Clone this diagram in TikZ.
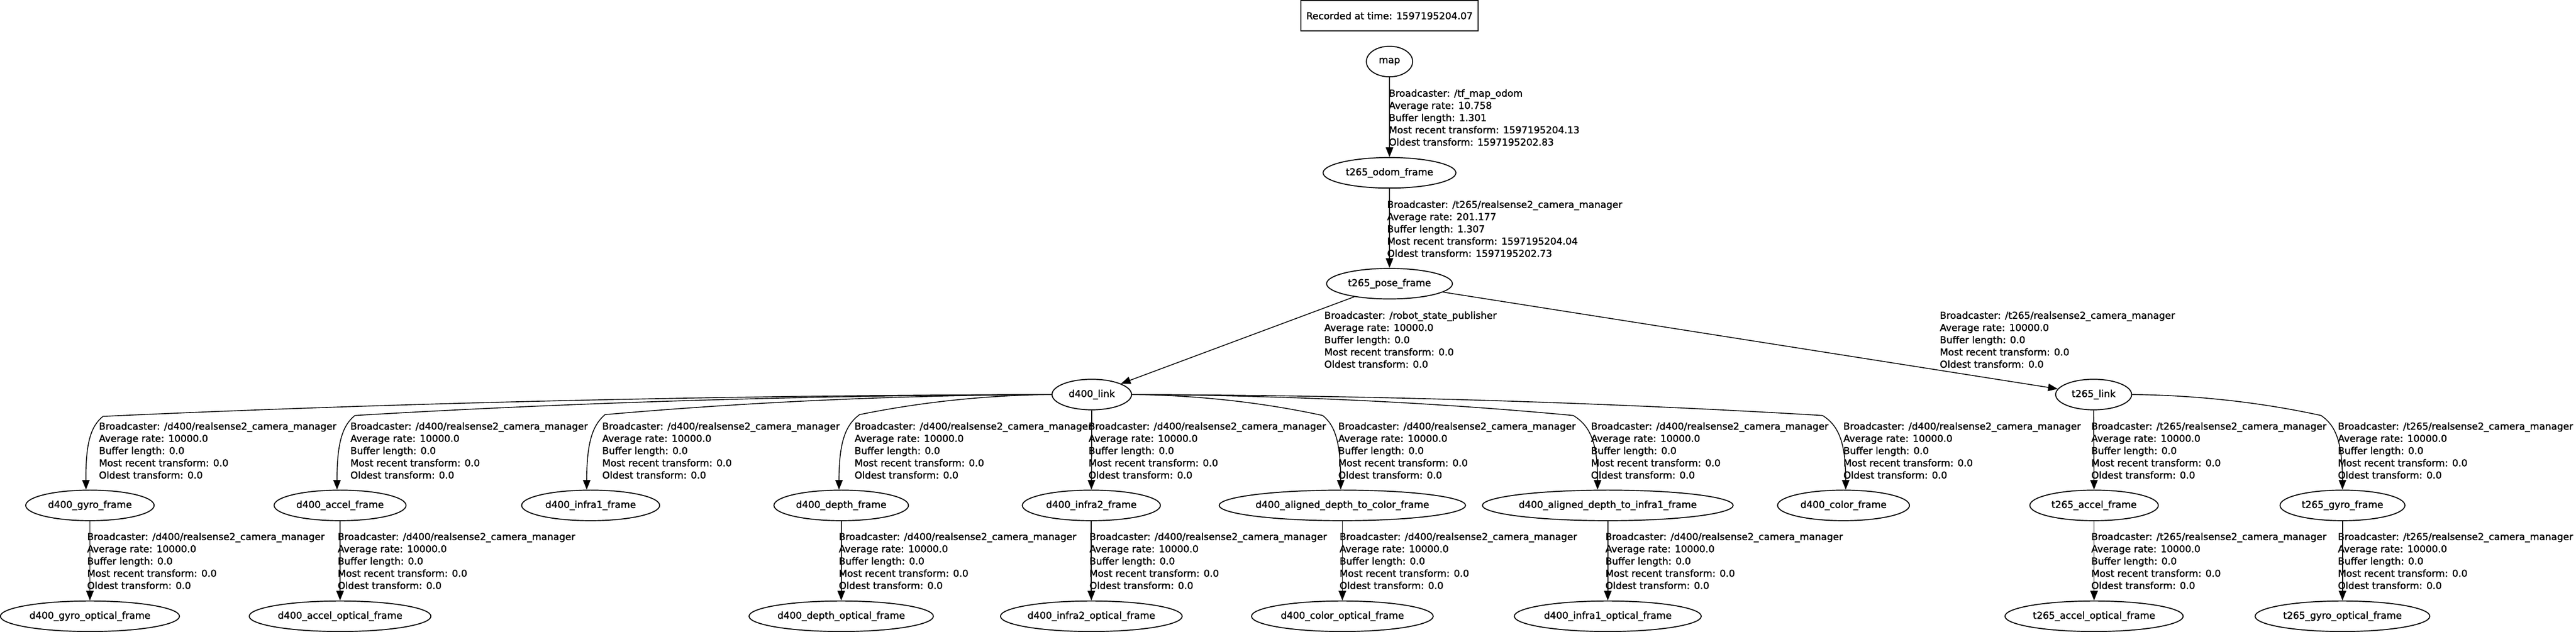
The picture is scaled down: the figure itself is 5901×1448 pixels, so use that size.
\documentclass[tikz,border=0pt]{standalone}
\usepackage{fontspec}
\setmainfont{DejaVu Sans}[FakeBold=1.6]
\usetikzlibrary{arrows.meta,shapes.geometric}

\tikzset{
  tfframe/.style={draw, ellipse, line width=0.65pt, inner sep=0pt, minimum height=0.70cm},
  tfedge/.style={line width=0.55pt, -{Triangle[length=0.22cm,width=0.17cm]}},
  tflabel/.style={anchor=north west, align=left, inner sep=0pt},
}
\newcommand{\fname}[1]{\makebox[0pt]{#1}}
\newcommand{\camstats}[1]{Broadcaster: /#1/realsense2\_camera\_manager\\Average rate: 10000.0\\Buffer length: 0.0\\Most recent transform: 0.0\\Oldest transform: 0.0}

\begin{document}
\begin{tikzpicture}[x=0.01cm, y=-0.01cm, font=\fontsize{6.26pt}{7.97pt}\selectfont]
\useasboundingbox (0,0) rectangle (5901,1448);
\node[draw, line width=0.65pt, inner sep=0pt, minimum width=4.05cm, minimum height=0.69cm] (stamp) at (3183,36) {Recorded at time: 1597195204.07}; % stamp
\node[tfframe, minimum width=1.06cm] (map) at (3183,141) {\fname{map}}; % map
\node[tfframe, minimum width=3.04cm] (t265-odom) at (3183,396) {\fname{t265\_odom\_frame}}; % t265_odom_frame
\node[tfframe, minimum width=2.88cm] (t265-pose) at (3183,650) {\fname{t265\_pose\_frame}}; % t265_pose_frame
\node[tfframe, minimum width=1.82cm] (d400-link) at (2501,904) {\fname{d400\_link}}; % d400_link
\node[tfframe, minimum width=1.74cm] (t265-link) at (4796,904) {\fname{t265\_link}}; % t265_link

\node[tfframe, minimum width=2.94cm] (d400-gyro) at (206,1158) {\fname{d400\_gyro\_frame}}; % d400_gyro_frame
\node[tfframe, minimum width=3.02cm] (d400-accel) at (779,1158) {\fname{d400\_accel\_frame}}; % d400_accel_frame
\node[tfframe, minimum width=3.16cm] (d400-infra1) at (1353,1158) {\fname{d400\_infra1\_frame}}; % d400_infra1_frame
\node[tfframe, minimum width=3.08cm] (d400-depth) at (1927,1158) {\fname{d400\_depth\_frame}}; % d400_depth_frame
\node[tfframe, minimum width=3.16cm] (d400-infra2) at (2500,1158) {\fname{d400\_infra2\_frame}}; % d400_infra2_frame
\node[tfframe, minimum width=5.64cm] (d400-al-color) at (3075,1158) {\fname{d400\_aligned\_depth\_to\_color\_frame}}; % d400_aligned_depth_to_color_frame
\node[tfframe, minimum width=5.74cm] (d400-al-infra1) at (3683,1158) {\fname{d400\_aligned\_depth\_to\_infra1\_frame}}; % d400_aligned_depth_to_infra1_frame
\node[tfframe, minimum width=3.02cm] (d400-color) at (4223,1158) {\fname{d400\_color\_frame}}; % d400_color_frame
\node[tfframe, minimum width=2.94cm] (t265-accel) at (4797,1158) {\fname{t265\_accel\_frame}}; % t265_accel_frame
\node[tfframe, minimum width=2.86cm] (t265-gyro) at (5366,1158) {\fname{t265\_gyro\_frame}}; % t265_gyro_frame

\node[tfframe, minimum width=4.10cm] (d400-gyro-opt) at (206,1412) {\fname{d400\_gyro\_optical\_frame}}; % d400_gyro_optical_frame
\node[tfframe, minimum width=4.16cm] (d400-accel-opt) at (779,1412) {\fname{d400\_accel\_optical\_frame}}; % d400_accel_optical_frame
\node[tfframe, minimum width=4.22cm] (d400-depth-opt) at (1927,1412) {\fname{d400\_depth\_optical\_frame}}; % d400_depth_optical_frame
\node[tfframe, minimum width=4.16cm] (d400-infra2-opt) at (2500,1412) {\fname{d400\_infra2\_optical\_frame}}; % d400_infra2_optical_frame
\node[tfframe, minimum width=4.16cm] (d400-color-opt) at (3075,1412) {\fname{d400\_color\_optical\_frame}}; % d400_color_optical_frame
\node[tfframe, minimum width=4.28cm] (d400-infra1-opt) at (3683,1412) {\fname{d400\_infra1\_optical\_frame}}; % d400_infra1_optical_frame
\node[tfframe, minimum width=4.08cm] (t265-accel-opt) at (4797,1412) {\fname{t265\_accel\_optical\_frame}}; % t265_accel_optical_frame
\node[tfframe, minimum width=4.00cm] (t265-gyro-opt) at (5366,1412) {\fname{t265\_gyro\_optical\_frame}}; % t265_gyro_optical_frame

\draw[tfedge] (map) -- (t265-odom); % map -> t265_odom_frame
\node[tflabel] (lbl-map) at (3181,204) {Broadcaster: /tf\_map\_odom\\Average rate: 10.758\\Buffer length: 1.301\\Most recent transform: 1597195204.13\\Oldest transform: 1597195202.83};
\draw[tfedge] (t265-odom) -- (t265-pose); % t265_odom_frame -> t265_pose_frame
\node[tflabel] (lbl-odom) at (3177,459) {Broadcaster: /t265/realsense2\_camera\_manager\\Average rate: 201.177\\Buffer length: 1.307\\Most recent transform: 1597195204.04\\Oldest transform: 1597195202.73};
\draw[tfedge] (t265-pose) -- (d400-link); % t265_pose_frame -> d400_link
\node[tflabel] (lbl-pose-d400) at (3033,713) {Broadcaster: /robot\_state\_publisher\\Average rate: 10000.0\\Buffer length: 0.0\\Most recent transform: 0.0\\Oldest transform: 0.0};
\draw[tfedge] (t265-pose) -- (t265-link); % t265_pose_frame -> t265_link
\node[tflabel] (lbl-pose-t265) at (4443,713) {\camstats{t265}};

\draw[tfedge] (d400-link.west) .. controls (1432,906) and (671,934) .. (236,954) .. controls (210,975) and (196,1010) .. (d400-gyro.104); % d400_link -> d400_gyro_frame
\node[tflabel] (lbl-gyro) at (226,967) {\camstats{d400}};
\draw[tfedge] (d400-link.west) .. controls (1691,906) and (1132,933) .. (813,952) .. controls (786,974) and (772,1010) .. (d400-accel.101); % d400_link -> d400_accel_frame
\node[tflabel] (lbl-accel) at (802,967) {\camstats{d400}};
\draw[tfedge] (d400-link.west) .. controls (1949,906) and (1591,932) .. (1386,950) .. controls (1359,973) and (1344,1010) .. (d400-infra1.104); % d400_link -> d400_infra1_frame
\node[tflabel] (lbl-infra1) at (1379,967) {\camstats{d400}};
\draw[tfedge] (d400-link.west) .. controls (2212,906) and (2057,932) .. (1969,950) .. controls (1938,973) and (1922,1010) .. (d400-depth.98); % d400_link -> d400_depth_frame
\node[tflabel] (lbl-depth) at (1957,967) {\camstats{d400}};
\draw[tfedge] (d400-link) -- (d400-infra2); % d400_link -> d400_infra2_frame
\node[tflabel] (lbl-infra2) at (2493,967) {\camstats{d400}};
\draw[tfedge] (d400-link.east) .. controls (2789,906) and (2942,933) .. (3030,952) .. controls (3057,974) and (3071,1010) .. (d400-al-color.96); % d400_link -> d400_aligned_depth_to_color_frame
\node[tflabel] (lbl-al-color) at (3065,967) {\camstats{d400}};
\draw[tfedge] (d400-link.east) .. controls (3047,906) and (3402,933) .. (3604,952) .. controls (3640,974) and (3660,1010) .. (d400-al-infra1.123); % d400_link -> d400_aligned_depth_to_infra1_frame
\node[tflabel] (lbl-al-infra1) at (3644,967) {\camstats{d400}};
\draw[tfedge] (d400-link.east) .. controls (3304,906) and (3858,933) .. (4175,952) .. controls (4210,974) and (4228,1010) .. (d400-color.82); % d400_link -> d400_color_frame
\node[tflabel] (lbl-color) at (4222,967) {\camstats{d400}};
\draw[tfedge] (t265-link) -- (t265-accel); % t265_link -> t265_accel_frame
\node[tflabel] (lbl-t265-accel) at (4790,967) {\camstats{t265}};
\draw[tfedge] (t265-link.east) .. controls (5078,906) and (5230,933) .. (5317,952) .. controls (5349,974) and (5366,1010) .. (t265-gyro.north); % t265_link -> t265_gyro_frame
\node[tflabel] (lbl-t265-gyro) at (5355,967) {\camstats{t265}};

\draw[tfedge] (d400-gyro) -- (d400-gyro-opt); % d400_gyro_frame -> d400_gyro_optical_frame
\node[tflabel] (lbl-gyro-opt) at (199,1220) {\camstats{d400}};
\draw[tfedge] (d400-accel) -- (d400-accel-opt); % d400_accel_frame -> d400_accel_optical_frame
\node[tflabel] (lbl-accel-opt) at (773,1220) {\camstats{d400}};
\draw[tfedge] (d400-depth) -- (d400-depth-opt); % d400_depth_frame -> d400_depth_optical_frame
\node[tflabel] (lbl-depth-opt) at (1921,1220) {\camstats{d400}};
\draw[tfedge] (d400-infra2) -- (d400-infra2-opt); % d400_infra2_frame -> d400_infra2_optical_frame
\node[tflabel] (lbl-infra2-opt) at (2495,1220) {\camstats{d400}};
\draw[tfedge] (d400-al-color) -- (d400-color-opt); % d400_aligned_depth_to_color_frame -> d400_color_optical_frame
\node[tflabel] (lbl-color-opt) at (3068,1220) {\camstats{d400}};
\draw[tfedge] (d400-al-infra1) -- (d400-infra1-opt); % d400_aligned_depth_to_infra1_frame -> d400_infra1_optical_frame
\node[tflabel] (lbl-infra1-opt) at (3677,1220) {\camstats{d400}};
\draw[tfedge] (t265-accel) -- (t265-accel-opt); % t265_accel_frame -> t265_accel_optical_frame
\node[tflabel] (lbl-t265-accel-opt) at (4790,1220) {\camstats{t265}};
\draw[tfedge] (t265-gyro) -- (t265-gyro-opt); % t265_gyro_frame -> t265_gyro_optical_frame
\node[tflabel] (lbl-t265-gyro-opt) at (5355,1220) {\camstats{t265}};
\end{tikzpicture}
\end{document}
